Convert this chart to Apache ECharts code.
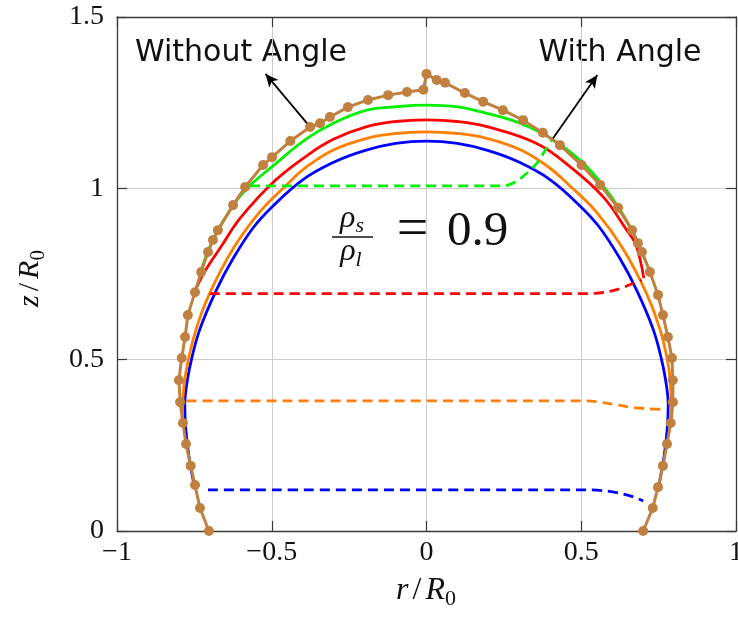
<!DOCTYPE html>
<html>
<head>
<meta charset="utf-8">
<script src="https://cdn.jsdelivr.net/npm/echarts@6/dist/echarts.min.js"></script>
<style>
  html, body { margin: 0; padding: 0; background: #fff; }
  #chart { width: 738px; height: 620px; }
</style>
</head>
<body>
<div id="chart"></div>
<script>
// Axis ticks (r/R0 horizontally, z/R0 vertically)
const xTicks = [-1, -0.5, 0, 0.5, 1];
const yTicks = [0, 0.5, 1, 1.5];

// Drop outline computed without contact angle (brown, with markers)
const withoutAngle = [
  [-0.703, 0.000], [-0.732, 0.067], [-0.748, 0.134], [-0.762, 0.190], [-0.777, 0.254],
  [-0.787, 0.315], [-0.796, 0.376], [-0.800, 0.440], [-0.791, 0.505], [-0.780, 0.566],
  [-0.771, 0.630], [-0.748, 0.697], [-0.728, 0.756], [-0.706, 0.814], [-0.690, 0.849],
  [-0.674, 0.878], [-0.625, 0.951], [-0.586, 1.004], [-0.528, 1.068], [-0.499, 1.091],
  [-0.440, 1.138], [-0.376, 1.179], [-0.344, 1.190], [-0.312, 1.208], [-0.254, 1.237],
  [-0.189, 1.258], [-0.124, 1.272], [-0.063, 1.281], [-0.010, 1.288],
  [0.000, 1.334], [0.033, 1.316], [0.060, 1.308], [0.124, 1.278], [0.183, 1.253],
  [0.247, 1.228], [0.312, 1.199], [0.376, 1.162], [0.431, 1.126], [0.501, 1.068],
  [0.561, 1.010], [0.619, 0.943], [0.664, 0.878], [0.683, 0.840], [0.696, 0.814],
  [0.722, 0.756], [0.748, 0.689], [0.764, 0.630], [0.780, 0.566], [0.793, 0.505],
  [0.796, 0.440], [0.796, 0.376], [0.789, 0.315], [0.777, 0.254], [0.764, 0.190],
  [0.748, 0.128], [0.731, 0.067], [0.700, 0.000]
];

// Liquid surfaces at four stages (with contact angle)
const blueSurface = [
  [-0.750, 0.130], [-0.768, 0.220], [-0.778, 0.300], [-0.781, 0.370], [-0.776, 0.420],
  [-0.762, 0.490], [-0.733, 0.587], [-0.679, 0.703], [-0.625, 0.795], [-0.560, 0.885],
  [-0.500, 0.945], [-0.400, 1.025], [-0.300, 1.076], [-0.200, 1.110], [-0.100, 1.131],
  [0.000, 1.138], [0.100, 1.131], [0.200, 1.110], [0.300, 1.076], [0.400, 1.025],
  [0.500, 0.945], [0.560, 0.885], [0.625, 0.795], [0.679, 0.703], [0.733, 0.587],
  [0.762, 0.490], [0.776, 0.420], [0.781, 0.370], [0.778, 0.300], [0.768, 0.220],
  [0.750, 0.130]
];
const orangeSurface = [
  [-0.790, 0.330], [-0.786, 0.400], [-0.774, 0.480], [-0.745, 0.587], [-0.700, 0.695],
  [-0.624, 0.825], [-0.538, 0.932], [-0.452, 1.010], [-0.387, 1.063], [-0.301, 1.112],
  [-0.193, 1.146], [-0.100, 1.160], [0.000, 1.165], [0.100, 1.160], [0.195, 1.146],
  [0.305, 1.112], [0.393, 1.063], [0.460, 1.010], [0.548, 0.932], [0.634, 0.825],
  [0.710, 0.695], [0.755, 0.587], [0.782, 0.480], [0.790, 0.400], [0.793, 0.330]
];
const redSurface = [
  [-0.748, 0.700], [-0.720, 0.752], [-0.665, 0.828], [-0.600, 0.915], [-0.490, 1.022],
  [-0.387, 1.095], [-0.301, 1.143], [-0.193, 1.180], [-0.100, 1.195], [0.000, 1.200],
  [0.100, 1.195], [0.195, 1.180], [0.356, 1.131], [0.464, 1.063], [0.571, 0.975],
  [0.647, 0.878], [0.674, 0.840], [0.692, 0.785], [0.702, 0.738]
];
const greenSurface = [
  [-0.730, 0.756], [-0.708, 0.812], [-0.676, 0.875], [-0.628, 0.945], [-0.580, 1.000],
  [-0.490, 1.070], [-0.387, 1.145], [-0.301, 1.190], [-0.193, 1.228], [-0.100, 1.238],
  [0.000, 1.243], [0.100, 1.238], [0.195, 1.219], [0.302, 1.190], [0.410, 1.141],
  [0.518, 1.063], [0.604, 0.966], [0.664, 0.878], [0.696, 0.814], [0.722, 0.756]
];

// Solidification fronts at the same four stages (dashed)
const blueFront = [[-0.706, 0.120], [0.520, 0.120], [0.580, 0.117], [0.630, 0.109], [0.670, 0.099], [0.700, 0.088]];
const orangeFront = [[-0.775, 0.380], [0.518, 0.380], [0.582, 0.373], [0.647, 0.363], [0.710, 0.357], [0.771, 0.355]];
const redFront = [[-0.700, 0.693], [0.530, 0.693], [0.580, 0.697], [0.620, 0.706], [0.660, 0.720], [0.695, 0.732]];
const greenFront = [[-0.570, 1.007], [0.248, 1.007], [0.290, 1.020], [0.324, 1.044], [0.356, 1.073], [0.388, 1.117], [0.405, 1.141]];

// Annotation arrows: [tail, head]
const arrowWithout = [[-0.377, 1.180], [-0.520, 1.334]];
const arrowWith = [[0.405, 1.141], [0.552, 1.331]];

const serif = 'Liberation Serif';
const ink = '#111';

function mathRich(base, sub) {
  return {
    i: { fontFamily: serif, fontStyle: 'italic', fontSize: base, lineHeight: base, fill: ink },
    u: { fontFamily: serif, fontSize: base, lineHeight: base, fill: ink, padding: [0, 4, 0, 4] },
    s: { fontFamily: serif, fontSize: sub, lineHeight: base + 7, verticalAlign: 'bottom', fill: ink },
    si: { fontFamily: serif, fontStyle: 'italic', fontSize: sub, lineHeight: base + 7, verticalAlign: 'bottom', fill: ink }
  };
}

function curve(data, color, dashed) {
  return {
    type: 'line',
    data: data,
    xAxisIndex: 0,
    yAxisIndex: 0,
    symbol: 'none',
    showSymbol: false,
    smooth: dashed ? 0.3 : 0.4,
    silent: true,
    z: dashed ? 3 : 2,
    lineStyle: { color: color, width: 2.8, type: dashed ? [10, 6] : 'solid', cap: 'butt' }
  };
}

const frame = { show: true, onZero: false, lineStyle: { color: '#3a3a3a', width: 1.3 } };
const ticks = { show: true, inside: true, length: 10, lineStyle: { color: '#3a3a3a', width: 1.2 } };
const grid = { show: true, lineStyle: { color: '#cdcdcd', width: 1 } };
const fmt = v => String(v).replace('-', '\u2212');

const xRange = { type: 'value', min: xTicks[0], max: xTicks[xTicks.length - 1], interval: xTicks[1] - xTicks[0] };
const yRange = { type: 'value', min: yTicks[0], max: yTicks[yTicks.length - 1], interval: yTicks[1] - yTicks[0] };

const chart = echarts.init(document.getElementById('chart'));
chart.setOption({
  animation: false,
  backgroundColor: '#fff',
  grid: { left: 117, right: 2, top: 17, bottom: 89, containLabel: false, outerBoundsMode: 'none' },
  xAxis: [
    Object.assign({}, xRange, {
      position: 'bottom', axisLine: frame, axisTick: ticks, splitLine: grid,
      axisLabel: { formatter: fmt, fontFamily: serif, fontSize: 28, color: ink, margin: 8 }
    }),
    Object.assign({}, xRange, {
      position: 'top', axisLine: frame, axisTick: ticks, splitLine: { show: false },
      axisLabel: { show: false }
    })
  ],
  yAxis: [
    Object.assign({}, yRange, {
      position: 'left', axisLine: frame, axisTick: ticks, splitLine: grid,
      axisLabel: { formatter: fmt, fontFamily: serif, fontSize: 28, color: ink, margin: 13 }
    }),
    Object.assign({}, yRange, {
      position: 'right', axisLine: frame, axisTick: ticks, splitLine: { show: false },
      axisLabel: { show: false }
    })
  ],
  series: [
    curve(blueSurface, '#0000ff', false),
    curve(orangeSurface, '#ff8000', false),
    curve(redSurface, '#ff0000', false),
    curve(greenSurface, '#00f000', false),
    curve(blueFront, '#0000ff', true),
    curve(orangeFront, '#ff8000', true),
    curve(redFront, '#ff0000', true),
    curve(greenFront, '#00f000', true),
    {
      type: 'line',
      data: withoutAngle,
      symbol: 'circle',
      symbolSize: 10,
      showSymbol: true,
      showAllSymbol: true,
      silent: true,
      z: 5,
      itemStyle: { color: '#bf8040' },
      lineStyle: { color: '#bf8040', width: 3 },
      markLine: {
        silent: true,
        symbol: ['none', 'arrow'],
        symbolSize: [9, 13],
        label: { show: false },
        lineStyle: { color: '#000', width: 1.8, type: 'solid' },
        data: [arrowWithout, arrowWith].map(a => [{ coord: a[0] }, { coord: a[1] }])
      }
    }
  ],
  graphic: [
    { type: 'text', x: 241, y: 53.5, style: { text: 'Without Angle', fontFamily: 'DejaVu Sans', fontSize: 30, fill: ink, align: 'center', verticalAlign: 'middle' } },
    { type: 'text', x: 620, y: 53, style: { text: 'With Angle', fontFamily: 'DejaVu Sans', fontSize: 30, fill: ink, align: 'center', verticalAlign: 'middle' } },
    // density ratio
    { type: 'text', x: 352, y: 198.7, style: { text: '{i|\u03c1}{si|s}', rich: mathRich(32, 22), fill: ink, align: 'center', verticalAlign: 'top' } },
    { type: 'line', shape: { x1: 332, y1: 237, x2: 373, y2: 237 }, style: { stroke: ink, lineWidth: 1.6 } },
    { type: 'text', x: 351, y: 232, style: { text: '{i|\u03c1}{si|l}', rich: mathRich(32, 22), fill: ink, align: 'center', verticalAlign: 'top' } },
    { type: 'text', x: 412.5, y: 231, style: { text: '=', fontFamily: serif, fontSize: 56, fill: ink, align: 'center', verticalAlign: 'middle' } },
    { type: 'text', x: 447, y: 231.8, style: { text: '0.9', fontFamily: serif, fontSize: 49, fill: ink, align: 'left', verticalAlign: 'middle' } },
    // axis names
    { type: 'text', x: 426, y: 571.4, style: { text: '{i|r}{u|/}{i|R}{s|0}', rich: mathRich(32, 22), fill: ink, align: 'center', verticalAlign: 'top' } },
    {
      type: 'group', x: 12, y: 278.5, rotation: Math.PI / 2,
      children: [
        { type: 'text', x: 0, y: 0, style: { text: '{i|z}{u|/}{i|R}{s|0}', rich: mathRich(30, 21), fill: ink, align: 'center', verticalAlign: 'top' } }
      ]
    }
  ]
});
</script>
</body>
</html>
